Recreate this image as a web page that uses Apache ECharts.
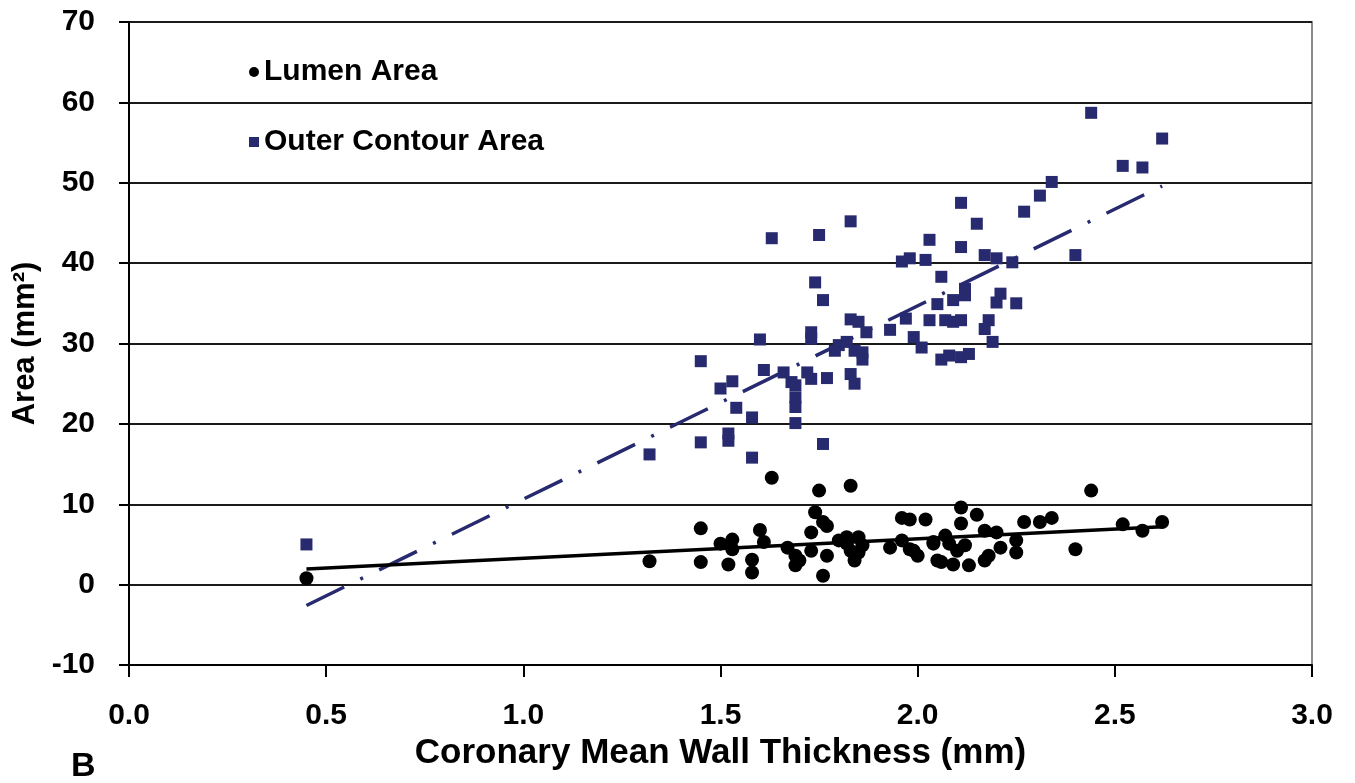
<!DOCTYPE html>
<html>
<head>
<meta charset="utf-8">
<title>Area vs Coronary Mean Wall Thickness</title>
<script src="https://cdn.jsdelivr.net/npm/echarts@6/dist/echarts.min.js"></script>
<style>
    html, body { margin: 0; padding: 0; background: #fff; }
    #main { width: 1355px; height: 783px; }
</style>
</head>
<body>
<div id="main"></div>
<script>
// 读图得到的数据 (wall thickness mm, area mm2)
var lumenX = [0.45, 1.32, 1.45, 1.45, 1.50, 1.53, 1.53, 1.52, 1.58, 1.58, 1.60, 1.61, 1.63, 1.67, 1.69, 1.69, 1.70,
    1.73, 1.73, 1.74, 1.75, 1.76, 1.77, 1.76, 1.77, 1.80, 1.82, 1.82, 1.83, 1.83, 1.84, 1.85, 1.85, 1.86,
    1.93, 1.96, 1.96, 1.98, 1.98, 1.99, 2.00, 2.02, 2.04, 2.04, 2.05, 2.06, 2.07, 2.08, 2.09, 2.10,
    2.11, 2.11, 2.12, 2.13, 2.15, 2.17, 2.17, 2.18, 2.20, 2.21, 2.25, 2.25, 2.27, 2.31, 2.34, 2.40,
    2.44, 2.52, 2.57, 2.62];
var lumenY = [0.8, 2.9, 7.0, 2.8, 5.1, 5.6, 4.4, 2.5, 3.1, 1.5, 6.8, 5.3, 13.3, 4.6, 3.6, 2.4, 3.0,
    4.2, 6.5, 9.0, 11.7, 7.8, 7.3, 1.1, 3.6, 5.5, 5.1, 5.9, 4.2, 12.3, 3.0, 5.9, 4.0, 4.9,
    4.6, 8.3, 5.5, 8.1, 4.4, 4.2, 3.6, 8.1, 5.1, 5.3, 3.0, 2.8, 6.1, 5.1, 2.5, 4.2,
    9.6, 7.6, 4.9, 2.4, 8.7, 6.7, 3.0, 3.6, 6.5, 4.6, 5.5, 4.0, 7.8, 7.8, 8.3, 4.4,
    11.7, 7.5, 6.7, 7.8];

var outerX = [0.45, 1.32, 1.45, 1.45, 1.50, 1.53, 1.54, 1.52, 1.52, 1.58, 1.58, 1.60, 1.61, 1.63, 1.66, 1.68,
    1.69, 1.69, 1.69, 1.69, 1.72, 1.73, 1.73, 1.73, 1.74, 1.75, 1.76, 1.76, 1.77, 1.80, 1.79, 1.82,
    1.83, 1.83, 1.83, 1.84, 1.84, 1.85, 1.86, 1.86, 1.87, 1.93, 1.97, 1.96, 1.98, 1.99, 2.01, 2.02,
    2.03, 2.03, 2.05, 2.06, 2.06, 2.07, 2.08, 2.09, 2.09, 2.11, 2.11, 2.11, 2.11, 2.12, 2.12, 2.13,
    2.15, 2.17, 2.18, 2.17, 2.20, 2.20, 2.21, 2.19, 2.24, 2.25, 2.27, 2.31, 2.34, 2.40, 2.44, 2.52,
    2.57, 2.62];
var outerY = [5.0, 16.2, 27.8, 17.7, 24.4, 25.3, 22.0, 18.8, 17.9, 15.8, 20.8, 30.5, 26.7, 43.1, 26.4, 25.2,
    24.8, 23.3, 22.1, 20.1, 26.4, 25.6, 31.4, 30.6, 37.6, 43.5, 35.4, 17.5, 25.7, 29.8, 29.1, 30.2,
    33.0, 45.2, 26.2, 25.0, 29.1, 32.7, 28.9, 28.0, 31.4, 31.7, 33.1, 40.2, 40.6, 30.8, 29.5, 40.4,
    42.9, 32.9, 34.9, 28.0, 38.3, 32.9, 28.5, 35.4, 32.7, 28.3, 32.9, 42.0, 47.5, 36.8, 36.0, 28.7,
    44.9, 41.0, 32.9, 31.8, 40.6, 35.1, 36.2, 30.2, 40.1, 35.0, 46.4, 48.4, 50.1, 41.0, 58.7, 52.1,
    51.9, 55.5];

// 趋势线端点
var lumenTrendX = [0.45, 2.62];
var lumenTrendY = [1.95, 7.2];
var outerTrendX = [0.45, 2.62];
var outerTrendY = [-2.6, 49.6];

var xTicks = [0, 0.5, 1.0, 1.5, 2.0, 2.5, 3.0];

function pairs(xs, ys) {
    var out = [];
    for (var i = 0; i < xs.length; i++) {
        out.push([xs[i], ys[i]]);
    }
    return out;
}

var navy = '#272a6e';
var fontName = 'Liberation Sans, Arial, sans-serif';

var myChart = echarts.init(document.getElementById('main'));

var option = {
    animation: false,
    backgroundColor: '#fff',
    grid: {
        left: 129,
        right: 43,
        top: 22,
        bottom: 118,
        show: true,
        borderColor: '#8a8a8a',
        borderWidth: 2
    },
    legend: {
        orient: 'vertical',
        left: 244,
        top: 52,
        itemWidth: 10,
        itemHeight: 10,
        itemGap: 40,
        data: [
            { name: 'Lumen Area', icon: 'circle' },
            { name: 'Outer Contour Area', icon: 'rect' }
        ],
        textStyle: {
            fontFamily: fontName,
            fontWeight: 'bold',
            fontSize: 30,
            color: '#000'
        }
    },
    xAxis: {
        type: 'value',
        min: xTicks[0],
        max: xTicks[xTicks.length - 1],
        interval: 0.5,
        name: 'Coronary Mean Wall Thickness (mm)',
        nameLocation: 'middle',
        nameGap: 68,
        nameTextStyle: {
            fontFamily: fontName,
            fontWeight: 'bold',
            fontSize: 35,
            color: '#000'
        },
        axisLine: { onZero: false, lineStyle: { color: '#000', width: 2 } },
        axisTick: { show: true, length: 12, lineStyle: { color: '#000', width: 2 } },
        axisLabel: {
            margin: 36,
            fontFamily: fontName,
            fontWeight: 'bold',
            fontSize: 30,
            color: '#000',
            formatter: function (v) { return v.toFixed(1); }
        },
        splitLine: { show: false }
    },
    yAxis: {
        type: 'value',
        min: -10,
        max: 70,
        interval: 10,
        name: 'Area (mm²)',
        nameLocation: 'middle',
        nameGap: 84,
        nameTextStyle: {
            fontFamily: fontName,
            fontWeight: 'bold',
            fontSize: 31,
            color: '#000'
        },
        axisLine: { show: true, lineStyle: { color: '#000', width: 2 } },
        axisTick: { show: true, length: 10, lineStyle: { color: '#000', width: 2 } },
        axisLabel: {
            margin: 34,
            fontFamily: fontName,
            fontWeight: 'bold',
            fontSize: 30,
            color: '#000'
        },
        splitLine: { show: true, lineStyle: { color: '#1a1a1a', width: 2 } }
    },
    series: [
        {
            name: 'Outer Contour Area',
            type: 'scatter',
            symbol: 'rect',
            symbolSize: 12,
            itemStyle: { color: navy, opacity: 1 },
            data: pairs(outerX, outerY),
            z: 3
        },
        {
            name: 'Lumen Area',
            type: 'scatter',
            symbol: 'circle',
            symbolSize: 14,
            itemStyle: { color: '#000', opacity: 1 },
            data: pairs(lumenX, lumenY),
            z: 3
        },
        {
            name: 'outerTrend',
            type: 'line',
            showSymbol: false,
            symbol: 'none',
            lineStyle: { color: navy, width: 3.5, type: [42, 18, 3, 18] },
            data: pairs(outerTrendX, outerTrendY),
            z: 4
        },
        {
            name: 'lumenTrend',
            type: 'line',
            showSymbol: false,
            symbol: 'none',
            lineStyle: { color: '#000', width: 3.5 },
            data: pairs(lumenTrendX, lumenTrendY),
            z: 4
        }
    ],
    graphic: [
        {
            type: 'text',
            left: 71,
            top: 750,
            style: {
                text: 'B',
                fontFamily: fontName,
                fontWeight: 'bold',
                fontSize: 34,
                fill: '#000'
            }
        }
    ]
};

myChart.setOption(option);
</script>
</body>
</html>
